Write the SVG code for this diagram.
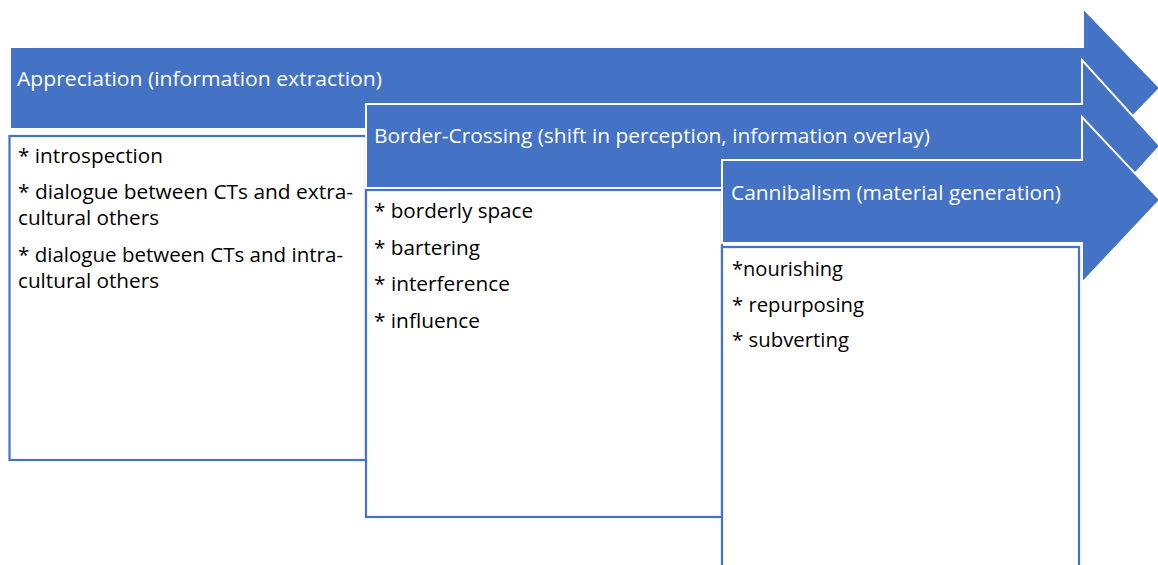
<svg xmlns="http://www.w3.org/2000/svg" width="1158" height="565" viewBox="0 0 1158 565">
<style>
.arrow{fill:#4472C4;stroke:#FFFFFF;stroke-width:2}
.box{fill:#FFFFFF;stroke:#4472C4;stroke-width:2.2}
.title{font-family:"Open Sans","Noto Sans","Liberation Sans",sans-serif;font-size:19.5px;fill:#FFFFFF}
.item{font-family:"Open Sans","Noto Sans","Liberation Sans",sans-serif;font-size:19.5px;fill:#000000}
</style>
<rect x="0" y="0" width="1158" height="565" fill="#FFFFFF"/>
<g id="connectors"></g>
<g id="stage-appreciation">
<path class="arrow" d="M10,47 H1083 V8 L1160,88 L1083,168 V129 H10 Z"/>
<text class="title" x="17" y="86" textLength="365" lengthAdjust="spacingAndGlyphs">Appreciation (information extraction)</text>
</g>
<g id="list-appreciation">
<rect class="box" x="9.5" y="136" width="356.5" height="324"/>
<text class="item" x="18" y="163" textLength="145" lengthAdjust="spacingAndGlyphs">* introspection</text>
<text class="item" x="18" y="199" textLength="335" lengthAdjust="spacingAndGlyphs">* dialogue between CTs and extra-</text>
<text class="item" x="18" y="225" textLength="141" lengthAdjust="spacingAndGlyphs">cultural others</text>
<text class="item" x="18" y="262" textLength="325" lengthAdjust="spacingAndGlyphs">* dialogue between CTs and intra-</text>
<text class="item" x="18" y="288" textLength="141" lengthAdjust="spacingAndGlyphs">cultural others</text>
</g>
<g id="stage-border-crossing">
<path class="arrow" d="M366,104 H1082 V60 L1160,146 L1082,232 V188 H366 Z"/>
<text class="title" x="374" y="143" textLength="556" lengthAdjust="spacingAndGlyphs">Border-Crossing (shift in perception, information overlay)</text>
</g>
<g id="list-border-crossing">
<rect class="box" x="366" y="190" width="356" height="327"/>
<text class="item" x="374" y="218" textLength="159" lengthAdjust="spacingAndGlyphs">* borderly space</text>
<text class="item" x="374" y="255" textLength="106" lengthAdjust="spacingAndGlyphs">* bartering</text>
<text class="item" x="374" y="291" textLength="136" lengthAdjust="spacingAndGlyphs">* interference</text>
<text class="item" x="374" y="328" textLength="106" lengthAdjust="spacingAndGlyphs">* influence</text>
</g>
<g id="stage-cannibalism">
<path class="arrow" d="M722,160 H1082 V117 L1160,200 L1082,283 V243 H722 Z"/>
<text class="title" x="731" y="200" textLength="330" lengthAdjust="spacingAndGlyphs">Cannibalism (material generation)</text>
</g>
<g id="list-cannibalism">
<rect class="box" x="722" y="247" width="357" height="330"/>
<text class="item" x="732" y="276" textLength="111" lengthAdjust="spacingAndGlyphs">*nourishing</text>
<text class="item" x="732" y="312" textLength="132" lengthAdjust="spacingAndGlyphs">* repurposing</text>
<text class="item" x="732" y="347" textLength="117" lengthAdjust="spacingAndGlyphs">* subverting</text>
</g>
</svg>
